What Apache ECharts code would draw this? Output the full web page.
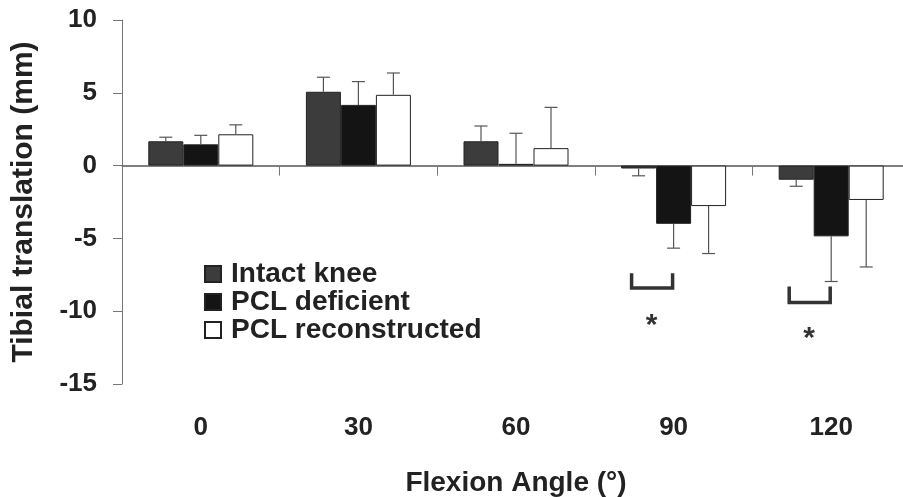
<!DOCTYPE html>
<html>
<head>
<meta charset="utf-8">
<script src="https://cdn.jsdelivr.net/npm/echarts@6/dist/echarts.min.js"></script>
<style>
html,body{margin:0;padding:0;background:#fff;}
#chart{width:903px;height:497px;}
</style>
</head>
<body>
<div id="chart"></div>
<script>
// ---- data ----
const categories = ['0', '30', '60', '90', '120'];
const seriesNames = ['Intact knee', 'PCL deficient', 'PCL reconstructed'];
const intactMean = [1.67, 5.07, 1.67, -0.2, -0.97];
const intactSD   = [0.28, 1.0, 1.05, 0.5, 0.45];
const deficientMean = [1.46, 4.17, 0.12, -4.0, -4.86];
const deficientSD   = [0.62, 1.6, 2.1, 1.67, 3.1];
const reconMean = [2.15, 4.86, 1.2, -2.78, -2.36];
const reconSD   = [0.65, 1.5, 2.8, 3.26, 4.6];
const yTicks = [-15, -10, -5, 0, 5, 10];
// significance brackets: category index, top, bottom, asterisk level
const bracketCats = [3, 4];
const bracketTop = [-7.4, -8.3];
const bracketBottom = [-8.4, -9.4];
const starY = [-10.5, -11.4];

// ---- styles ----
const FONT = "'Liberation Sans', Arial, sans-serif";
const BAR_W = 35;
const colors = ['#3c3c3c', '#141414', '#ffffff'];

const means = [intactMean, deficientMean, reconMean];
const sds = [intactSD, deficientSD, reconSD];

const errData = [];
means.forEach((m, s) => m.forEach((v, i) => errData.push([i, v, sds[s][i], s])));
const bracketData = bracketCats.map((c, k) => [c, bracketTop[k], bracketBottom[k], starY[k]]);

const chart = echarts.init(document.getElementById('chart'), null, {renderer: 'canvas'});

const barSeries = seriesNames.map((name, s) => ({
  name: name,
  type: 'bar',
  xAxisIndex: 0,
  data: means[s],
  barWidth: BAR_W,
  barGap: '0%',
  itemStyle: {color: colors[s], borderColor: '#222', borderWidth: 1},
  emphasis: {disabled: true},
  z: 2
}));

const option = {
  animation: false,
  backgroundColor: '#fff',
  grid: {left: 122, top: 20, width: 788, height: 364, outerBoundsMode: 'none', containLabel: false},
  legend: {
    orient: 'vertical',
    left: 199,
    top: 255,
    icon: 'rect',
    itemWidth: 16,
    itemHeight: 16,
    itemGap: 0,
    data: seriesNames,
    textStyle: {fontFamily: FONT, fontWeight: 'bold', fontSize: 28, color: '#222', lineHeight: 28, padding: [0, 0, 0, 5]}
  },
  xAxis: [{
    type: 'category',
    data: categories,
    axisLine: {onZero: true, lineStyle: {color: '#555', width: 1.5}},
    axisTick: {show: true, length: 10, lineStyle: {color: '#777'}},
    axisLabel: {show: false},
    splitLine: {show: false}
  }, {
    type: 'category',
    data: categories,
    position: 'bottom',
    axisLine: {show: false, onZero: false},
    axisTick: {show: false},
    axisLabel: {margin: 31, fontFamily: FONT, fontWeight: 'bold', fontSize: 26, color: '#222'},
    name: 'Flexion Angle (°)',
    nameLocation: 'middle',
    nameGap: 85,
    nameTextStyle: {fontFamily: FONT, fontWeight: 'bold', fontSize: 28, color: '#222'}
  }],
  yAxis: {
    type: 'value',
    min: yTicks[0],
    max: yTicks[yTicks.length - 1],
    interval: 5,
    axisLine: {show: true, lineStyle: {color: '#777', width: 1}},
    axisTick: {show: true, length: 9, lineStyle: {color: '#777'}},
    splitLine: {show: false},
    axisLabel: {margin: 25, fontFamily: FONT, fontWeight: 'bold', fontSize: 26, color: '#222'},
    name: 'Tibial translation (mm)',
    nameLocation: 'middle',
    nameRotate: 90,
    nameGap: 83,
    nameTextStyle: {fontFamily: FONT, fontWeight: 'bold', fontSize: 30, color: '#222'}
  },
  series: barSeries.concat([{
    type: 'custom',
    name: 'errors',
    xAxisIndex: 0,
    z: 3,
    silent: true,
    data: errData,
    renderItem: function (params, api) {
      const cat = api.value(0), mean = api.value(1), sd = api.value(2), s = api.value(3);
      const base = api.coord([cat, mean]);
      const end = api.coord([cat, mean >= 0 ? mean + sd : mean - sd]);
      const x = base[0] + (s - 1) * BAR_W;
      const st = {stroke: '#555', lineWidth: 1.2};
      return {
        type: 'group',
        children: [
          {type: 'line', shape: {x1: x, y1: base[1], x2: x, y2: end[1]}, style: st},
          {type: 'line', shape: {x1: x - 6.5, y1: end[1], x2: x + 6.5, y2: end[1]}, style: st}
        ]
      };
    }
  }, {
    type: 'custom',
    name: 'brackets',
    xAxisIndex: 0,
    z: 3,
    silent: true,
    data: bracketData,
    renderItem: function (params, api) {
      const cat = api.value(0);
      const top = api.coord([cat, api.value(1)]);
      const bot = api.coord([cat, api.value(2)]);
      const star = api.coord([cat, api.value(3)]);
      const xl = top[0] - 42, xr = top[0] - 1;
      return {
        type: 'group',
        children: [
          {type: 'polyline', shape: {points: [[xl, top[1]], [xl, bot[1]], [xr, bot[1]], [xr, top[1]]]},
           style: {stroke: '#333', lineWidth: 3.5, fill: null}},
          {type: 'text', x: top[0] - 22, y: star[1] + 7,
           style: {text: '*', fontFamily: FONT, fontWeight: 'bold', fontSize: 30, fill: '#333',
                   align: 'center', verticalAlign: 'middle'}}
        ]
      };
    }
  }])
};
chart.setOption(option);
</script>
</body>
</html>
